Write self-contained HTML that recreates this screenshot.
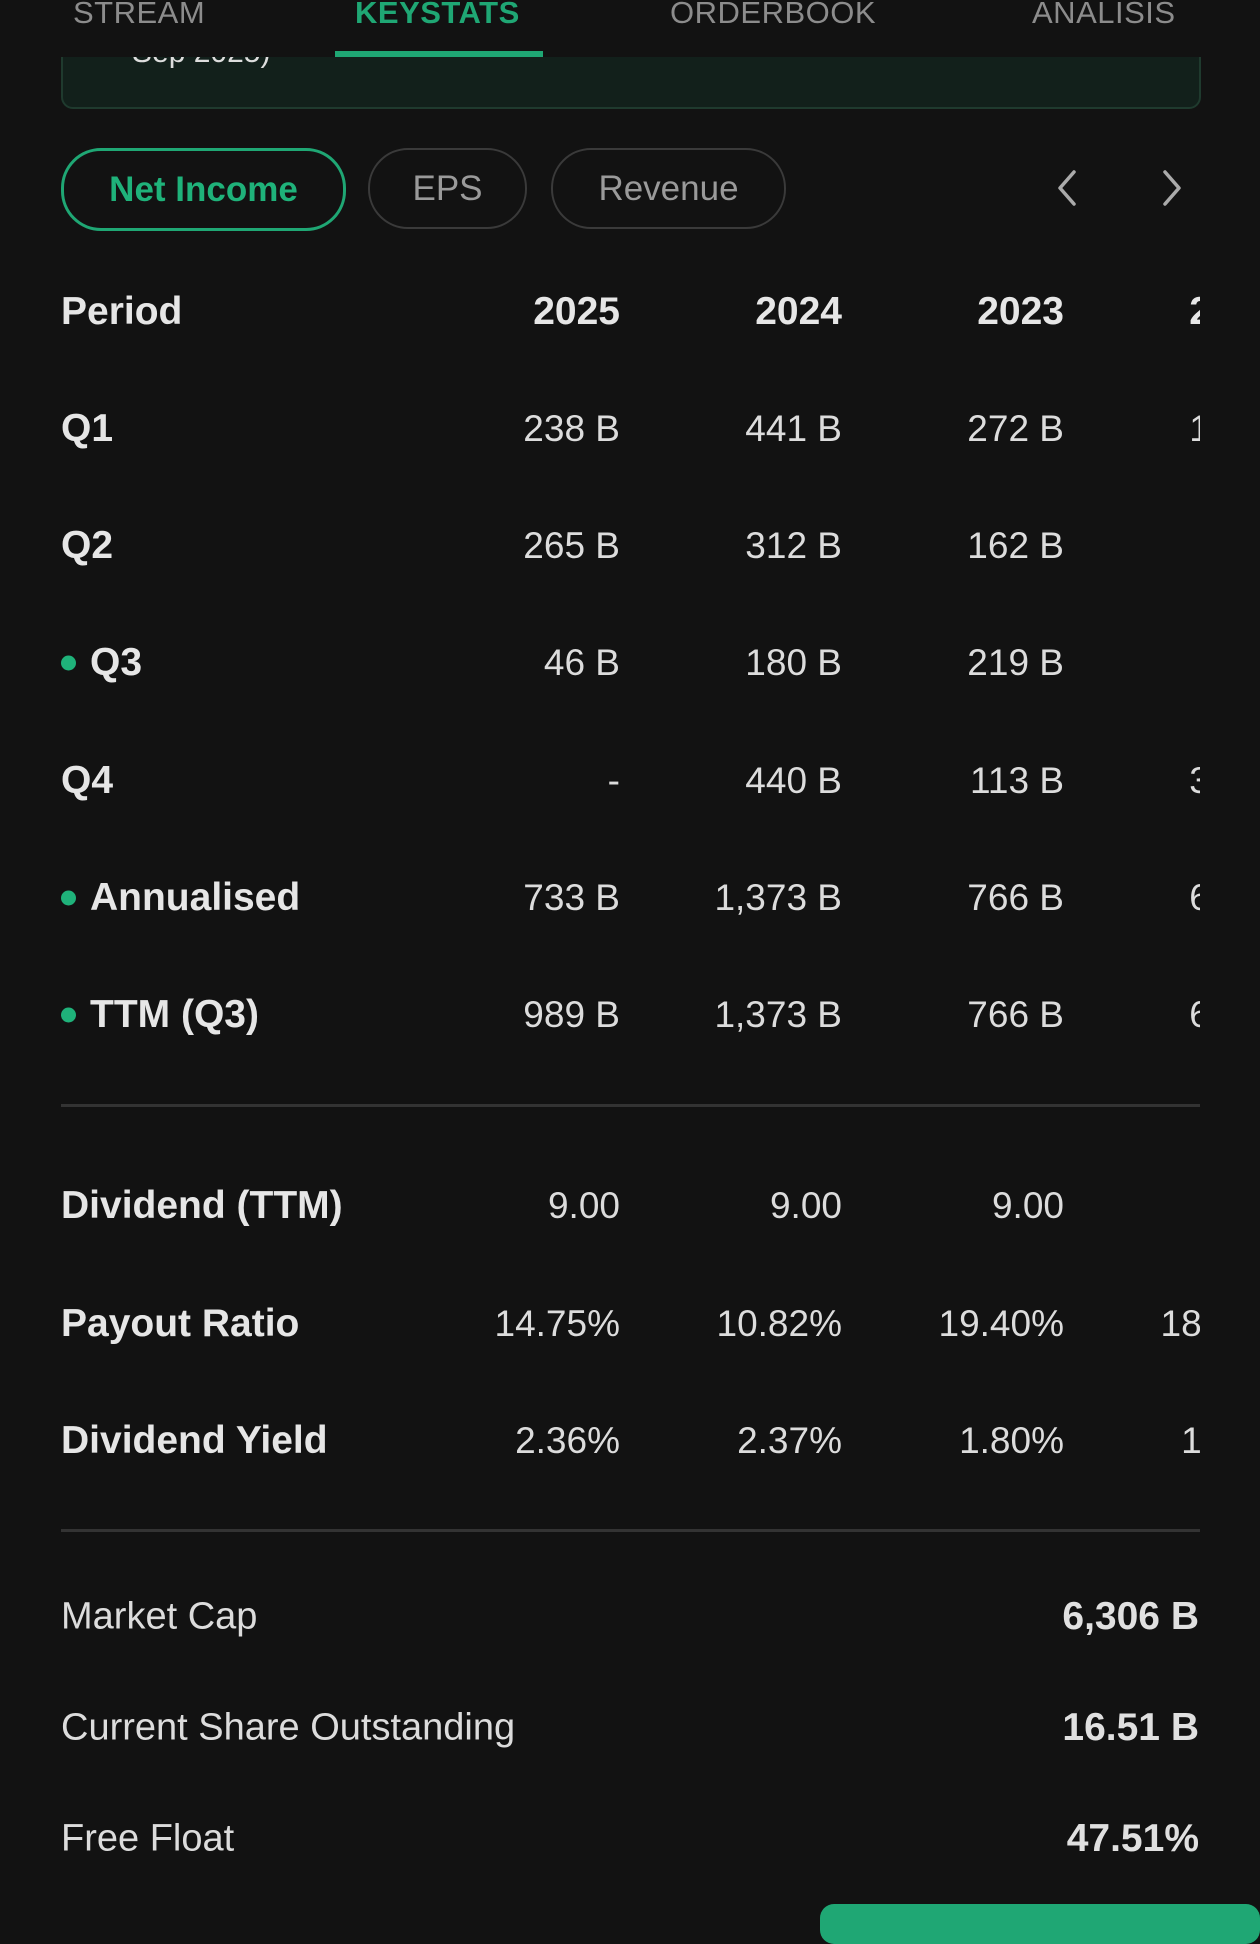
<!DOCTYPE html>
<html><head><meta charset="utf-8">
<style>
html,body{margin:0;padding:0;background:#121212;}
body{width:1260px;height:1912px;position:relative;overflow:hidden;font-family:"Liberation Sans",sans-serif;color:#e4e4e4;}
.abs{position:absolute;}
.tab{position:absolute;top:-5px;font-size:31px;color:#8c8c8c;letter-spacing:0.5px;}
.pill{position:absolute;top:148px;height:77px;border:2px solid #3a3a3a;border-radius:40px;font-size:35px;color:#9a9a9a;display:flex;align-items:center;justify-content:center;box-sizing:content-box;}
.lbl{position:absolute;left:61px;font-size:39px;font-weight:bold;color:#e6e6e6;transform:translateY(-50%);white-space:nowrap;}
.val{position:absolute;font-size:37px;color:#dcdcdc;transform:translateY(-50%);white-space:nowrap;text-align:right;}
.dot{position:absolute;left:61px;width:15px;height:15px;border-radius:50%;background:#1fb27a;transform:translateY(-50%);}
.hr{position:absolute;left:61px;width:1139px;height:3px;background:#333;}
#clip{position:absolute;left:0;top:0;width:1200px;height:1912px;overflow:hidden;}
</style></head><body>
<div class="abs" style="left:61px;top:20px;width:1136px;height:85px;background:#12201b;border:2px solid #1f3a2e;border-radius:12px;"></div>
<div class="abs" style="left:132px;top:36px;font-size:30px;color:#ddd;">Sep 2025)</div>
<div class="abs" style="left:0;top:0;width:1260px;height:57px;background:#121212;"></div>
<div class="tab" style="left:73px;">STREAM</div>
<div class="tab" style="left:355px;color:#1fa774;font-weight:bold;">KEYSTATS</div>
<div class="tab" style="left:670px;">ORDERBOOK</div>
<div class="tab" style="left:1032px;">ANALISIS</div>
<div class="abs" style="left:335px;top:51px;width:208px;height:6px;background:#1fa774;"></div>

<div class="pill" style="left:61px;width:279px;border:3px solid #1fa774;color:#1fb27a;font-weight:bold;">Net Income</div>
<div class="pill" style="left:368px;width:155px;">EPS</div>
<div class="pill" style="left:551px;width:231px;">Revenue</div>
<svg class="abs" style="left:1050px;top:168px" width="34" height="40"><polyline points="24,4 10,20 24,36" fill="none" stroke="#aaa" stroke-width="3.5" stroke-linecap="round" stroke-linejoin="round"/></svg>
<svg class="abs" style="left:1155px;top:168px" width="34" height="40"><polyline points="10,4 24,20 10,36" fill="none" stroke="#aaa" stroke-width="3.5" stroke-linecap="round" stroke-linejoin="round"/></svg>

<div id="clip"></div>
<div class="hr" style="top:1104px"></div>
<div class="hr" style="top:1529px"></div>
<div class="abs" style="left:820px;top:1904px;width:440px;height:40px;background:#1fa774;border-radius:14px;"></div>

<script>
const years = ["2025","2024","2023","2022"];
const rowLabels = ["Q1","Q2","Q3","Q4","Annualised","TTM (Q3)"];
const rowDots = [false,false,true,false,true,true];
const col2025 = ["238 B","265 B","46 B","-","733 B","989 B"];
const col2024 = ["441 B","312 B","180 B","440 B","1,373 B","1,373 B"];
const col2023 = ["272 B","162 B","219 B","113 B","766 B","766 B"];
const col2022 = ["158 B","99 B","99 B","321 B","650 B","650 B"];
const divLabels = ["Dividend (TTM)","Payout Ratio","Dividend Yield"];
const div2025 = ["9.00","14.75%","2.36%"];
const div2024 = ["9.00","10.82%","2.37%"];
const div2023 = ["9.00","19.40%","1.80%"];
const div2022 = ["9.00","18.20%","1.95%"];
const summaryLabels = ["Market Cap","Current Share Outstanding","Free Float"];
const summaryValues = ["6,306 B","16.51 B","47.51%"];

const clip = document.getElementById('clip');
const CLIPW = 1200;
const colRight = [620,842,1064,1286];
function add(cls, text, x, y, right){
  const d = document.createElement('div');
  d.className = cls; d.textContent = text; d.style.top = y+'px';
  if(right!==undefined){ d.style.right = (CLIPW-right)+'px'; } else { d.style.left = x+'px'; }
  clip.appendChild(d); return d;
}
let h = add('lbl','Period',61,312);


years.forEach((yr,i)=>{
  const e = add('val',yr,0,312,i===3?1276:colRight[i]);
  e.style.fontWeight='bold'; e.style.color='#e6e6e6'; e.style.fontSize='39px';
  
  
});
const cols = [col2025,col2024,col2023,col2022];
rowLabels.forEach((lab,r)=>{
  const y = 429 + r*117.2;
  const l = add('lbl',lab,rowDots[r]?90:61,y);
  
  
  if(rowDots[r]){
    const d = document.createElement('div'); d.className='dot'; d.style.top=y+'px';
    
    
    clip.appendChild(d);
  }
  cols.forEach((c,i)=>{
    const v = add('val',c[r],0,y,colRight[i]);
    
    
  });
});
const dcols = [div2025,div2024,div2023,div2022];
divLabels.forEach((lab,r)=>{
  const y = 1206 + r*117.5;
  const l = add('lbl',lab,61,y);
  
  
  dcols.forEach((c,i)=>{
    const v = add('val',c[r],0,y,colRight[i]);
    
    
  });
});
summaryLabels.forEach((lab,r)=>{
  const y = 1617 + r*111;
  const l = add('lbl',lab,61,y);
  l.style.fontWeight='normal'; l.style.color='#dcdcdc'; l.style.fontSize='38px';
  
  
  const v = add('val',summaryValues[r],0,y,1199);
  v.style.fontWeight='bold'; v.style.color='#e0e0e0'; v.style.fontSize='39px';
  
  
});
</script>
</body></html>
